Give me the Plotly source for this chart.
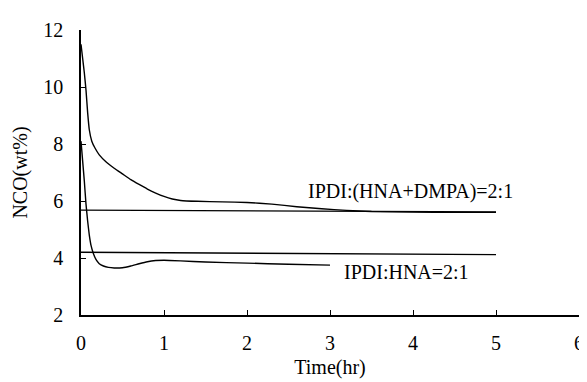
import plotly.graph_objects as go

# Data
upper_t = [0.0, 0.02, 0.04, 0.06, 0.08, 0.1, 0.13, 0.17, 0.22, 0.3, 0.4, 0.5, 0.6, 0.7, 0.8, 0.9, 1.0, 1.1, 1.2, 1.4, 1.7, 2.0, 2.3, 2.6, 2.9, 3.2, 3.5, 4.0, 4.5, 5.0]
upper_v = [11.5, 11.0, 10.5, 9.9, 9.1, 8.5, 8.1, 7.85, 7.62, 7.38, 7.15, 6.95, 6.75, 6.58, 6.42, 6.28, 6.16, 6.07, 6.02, 5.99, 5.97, 5.95, 5.89, 5.8, 5.73, 5.67, 5.63, 5.61, 5.6, 5.6]

lower_t = [0.0, 0.02, 0.04, 0.06, 0.08, 0.1, 0.12, 0.15, 0.18, 0.22, 0.27, 0.33, 0.4, 0.5, 0.6, 0.7, 0.8, 0.9, 1.0, 1.2, 1.5, 2.0, 2.5, 3.0]
lower_v = [8.1, 7.4, 6.7, 5.9, 5.3, 4.8, 4.45, 4.15, 3.95, 3.8, 3.72, 3.67, 3.65, 3.66, 3.72, 3.8, 3.87, 3.91, 3.92, 3.9, 3.86, 3.82, 3.78, 3.75]

ref_t = [0.0, 5.0]
ref_upper = [5.68, 5.62]
ref_lower = [4.2, 4.12]

x_ticks = [0, 1, 2, 3, 4, 5, 6]
y_ticks = [2, 4, 6, 8, 10, 12]

label_upper = "IPDI:(HNA+DMPA)=2:1"
label_lower = "IPDI:HNA=2:1"
label_upper_pos = (3.97, 6.35)
label_lower_pos = (3.92, 3.5)

FONT = "Liberation Serif"
FS = 20

fig = go.Figure()
line = dict(color="black", width=1.4)
fig.add_trace(go.Scatter(x=upper_t, y=upper_v, mode="lines", line=dict(shape="spline", smoothing=0.4, **line)))
fig.add_trace(go.Scatter(x=lower_t, y=lower_v, mode="lines", line=dict(shape="spline", smoothing=0.4, **line)))
fig.add_trace(go.Scatter(x=ref_t, y=ref_upper, mode="lines", line=line))
fig.add_trace(go.Scatter(x=ref_t, y=ref_lower, mode="lines", line=line))

fig.add_annotation(x=label_upper_pos[0], y=label_upper_pos[1], text=label_upper, showarrow=False,
                   font=dict(family=FONT, size=FS, color="black"))
fig.add_annotation(x=label_lower_pos[0], y=label_lower_pos[1], text=label_lower, showarrow=False,
                   font=dict(family=FONT, size=FS, color="black"))

fig.update_layout(
    width=587, height=382,
    margin=dict(l=73, r=11, t=20, b=75),
    paper_bgcolor="white", plot_bgcolor="white",
    showlegend=False,
    font=dict(family=FONT, size=FS, color="black"),
)
fig.update_xaxes(range=[0, 6], tickvals=x_ticks, showgrid=False, zeroline=False,
                 showline=True, linecolor="black", linewidth=1.5,
                 ticks="inside", ticklen=5, tickcolor="black", tickwidth=1.2,
                 ticklabelstandoff=9, ticklabeloverflow="allow",
                 tickfont=dict(family=FONT, size=FS),
                 title=dict(text="Time(hr)", standoff=7, font=dict(family=FONT, size=FS)))
fig.update_yaxes(range=[2, 12], tickvals=y_ticks, showgrid=False, zeroline=False,
                 showline=True, linecolor="black", linewidth=1.5,
                 ticks="inside", ticklen=5, tickcolor="black", tickwidth=1.2,
                 ticklabelstandoff=12, ticklabeloverflow="allow",
                 tickfont=dict(family=FONT, size=FS),
                 title=dict(text="NCO(wt%)", standoff=10, font=dict(family=FONT, size=FS)))

fig.write_html("out.html")
